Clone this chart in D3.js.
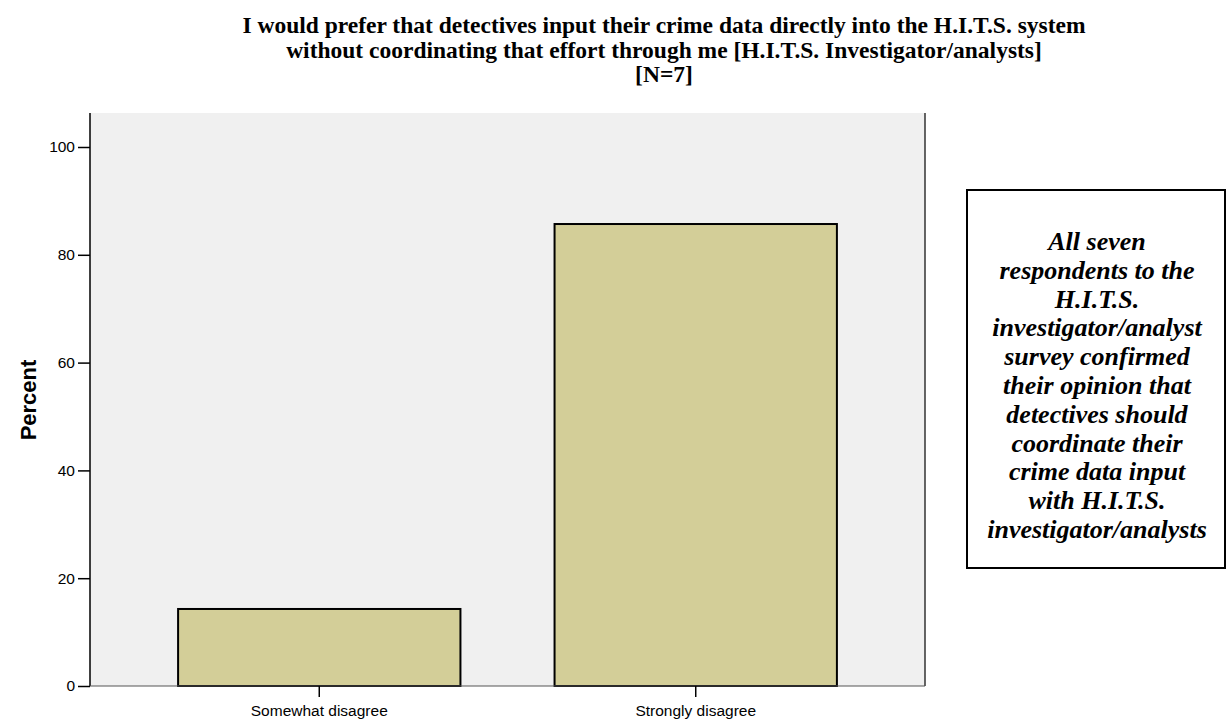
<!DOCTYPE html>
<html>
<head>
<meta charset="utf-8">
<script src="https://cdn.jsdelivr.net/npm/d3@7"></script>
<style>
  html, body { margin: 0; padding: 0; background: #fff; }
  svg { display: block; }
</style>
</head>
<body>
<svg id="chart" width="1227" height="719"></svg>
<script>
// Survey responses (percent of respondents)
const categories = ["Somewhat disagree", "Strongly disagree"];
const percents = [14.29, 85.71];
const yTicks = [0, 20, 40, 60, 80, 100];
const titleLines = [
  "I would prefer that detectives input their crime data directly into the H.I.T.S. system",
  "without coordinating that effort through me [H.I.T.S. Investigator/analysts]",
  "[N=7]"
];
const noteLines = [
  "All seven", "respondents to the", "H.I.T.S.", "investigator/analyst",
  "survey confirmed", "their opinion that", "detectives should",
  "coordinate their", "crime data input", "with H.I.T.S.", "investigator/analysts"
];

const svg = d3.select("#chart");
const plot = { left: 90, right: 925, top: 113, bottom: 686 };
const sans = "Liberation Sans, Arial, sans-serif";
const serif = "Liberation Serif, Times New Roman, serif";

const x = d3.scaleBand()
  .domain(categories)
  .range([plot.left, plot.right])
  .paddingInner(0.25)
  .paddingOuter(0.234);

const y = d3.scaleLinear()
  .domain([0, 100])
  .range([plot.bottom, 147]);

// plot background
svg.append("rect")
  .attr("x", plot.left).attr("y", plot.top)
  .attr("width", plot.right - plot.left).attr("height", plot.bottom - plot.top)
  .attr("fill", "#f0f0f0");

// right frame edge
svg.append("line")
  .attr("x1", plot.right).attr("x2", plot.right)
  .attr("y1", plot.top).attr("y2", plot.bottom)
  .attr("stroke", "#333").attr("stroke-width", 1.5);

// bars
svg.selectAll("rect.bar")
  .data(categories)
  .join("rect")
  .attr("class", "bar")
  .attr("x", d => x(d))
  .attr("width", x.bandwidth())
  .attr("y", (d, i) => y(percents[i]))
  .attr("height", (d, i) => y(0) - y(percents[i]))
  .attr("fill", "#d3ce98")
  .attr("stroke", "#000")
  .attr("stroke-width", 2);

// y axis
const yAxis = svg.append("g")
  .attr("transform", `translate(${plot.left},0)`)
  .call(d3.axisLeft(y).tickValues(yTicks).tickSize(12).tickPadding(3));
yAxis.select(".domain")
  .attr("d", `M0,${plot.top}V${plot.bottom}`)
  .attr("stroke", "#000").attr("stroke-width", 1.5);
yAxis.selectAll(".tick line").attr("stroke", "#000").attr("stroke-width", 1.5);
yAxis.selectAll(".tick text")
  .attr("font-family", sans)
  .attr("font-size", 15.5).attr("fill", "#000");

// x axis
const xAxis = svg.append("g")
  .attr("transform", `translate(0,${plot.bottom})`)
  .call(d3.axisBottom(x).tickSize(11));
xAxis.select(".domain")
  .attr("d", `M${plot.left},0H${plot.right}`)
  .attr("stroke", "#555").attr("stroke-width", 1.2);
xAxis.selectAll(".tick line").attr("stroke", "#000").attr("stroke-width", 1.5);
xAxis.selectAll(".tick text")
  .attr("y", 30).attr("dy", 0)
  .attr("font-family", sans)
  .attr("font-size", 15.5).attr("fill", "#000");

// y axis title
svg.append("text")
  .attr("transform", "translate(36,400) rotate(-90)")
  .attr("text-anchor", "middle")
  .attr("font-family", sans)
  .attr("font-weight", "bold")
  .attr("font-size", 22)
  .text("Percent");

// chart title
svg.append("g").selectAll("text")
  .data(titleLines)
  .join("text")
  .attr("x", 664)
  .attr("y", (d, i) => 33 + i * 24.5)
  .attr("text-anchor", "middle")
  .attr("font-family", serif)
  .attr("font-weight", "bold")
  .attr("font-size", 23.5)
  .text(d => d);

// annotation box
svg.append("rect")
  .attr("x", 967).attr("y", 190)
  .attr("width", 258).attr("height", 378)
  .attr("fill", "#fff")
  .attr("stroke", "#000").attr("stroke-width", 2);

svg.append("g").selectAll("text")
  .data(noteLines)
  .join("text")
  .attr("x", 1097)
  .attr("y", (d, i) => 250 + i * 28.8)
  .attr("text-anchor", "middle")
  .attr("font-family", serif)
  .attr("font-weight", "bold")
  .attr("font-style", "italic")
  .attr("font-size", 26)
  .text(d => d);
</script>
</body>
</html>
